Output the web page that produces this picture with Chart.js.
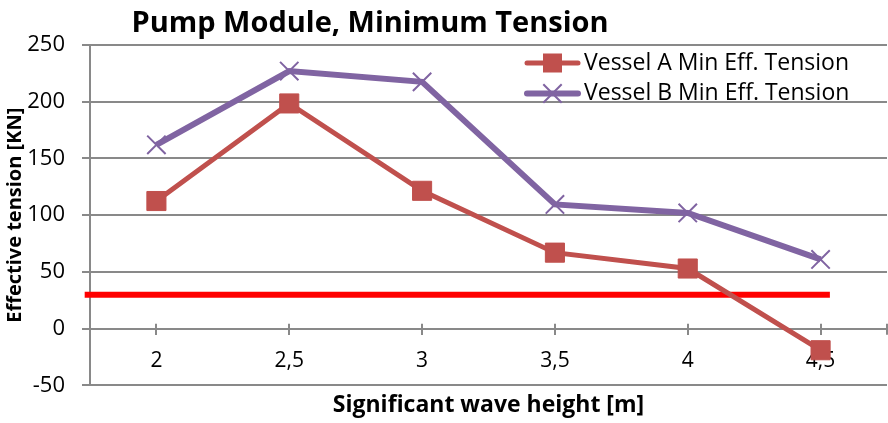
<!DOCTYPE html>
<html>
<head>
<meta charset="utf-8">
<title>Pump Module, Minimum Tension</title>
<script src="https://cdn.jsdelivr.net/npm/chart.js@4/dist/chart.umd.min.js"></script>
<style>
  html, body { margin: 0; padding: 0; background: #fff; }
  canvas { display: block; }
</style>
</head>
<body>
<canvas id="tension-chart" width="888" height="423"></canvas>
<script>
// values
const waveHeights = [2, 2.5, 3, 3.5, 4, 4.5];
const vesselA = [112.5, 198.5, 121.5, 67, 53, -19];
const vesselB = [162, 227, 217.5, 109.5, 102, 61];
const limitX = [1.73, 4.535];   // red limit line runs a bit past the axes
const limitY = [30, 30];
const yTicks = [-50, 0, 50, 100, 150, 200, 250];

const chartTitle = 'Pump Module, Minimum Tension';
const xTitle = 'Significant wave height [m]';
const yTitle = 'Effective tension [KN]';

const FONT = '"Open Sans"';
const GRID = '#898989';

const toPoints = (xs, ys) => xs.map((x, i) => ({ x: x, y: ys[i] }));
const commaLabel = (v) => String(v).replace('.', ',');

// title sits left of centre in the original, so draw it by hand
const titlePlugin = {
  id: 'manualTitle',
  afterDraw(chart) {
    const ctx = chart.ctx;
    ctx.save();
    ctx.font = `bold 29px ${FONT}`;
    ctx.fillStyle = '#000';
    ctx.textAlign = 'center';
    ctx.textBaseline = 'alphabetic';
    ctx.fillText(chartTitle, 370, 32);
    ctx.restore();
  }
};

// excel style tick marks cross the zero line, chart.js only draws them below
const crossTicksPlugin = {
  id: 'crossTicks',
  beforeDatasetsDraw(chart) {
    const { ctx, scales: { x, y } } = chart;
    const zero = y.getPixelForValue(0);
    ctx.save();
    ctx.strokeStyle = GRID;
    ctx.lineWidth = 2;
    ctx.beginPath();
    waveHeights.concat([x.max]).forEach(v => {
      const px = Math.round(x.getPixelForValue(v));
      ctx.moveTo(px, zero - 5);
      ctx.lineTo(px, zero + 6);
    });
    ctx.stroke();
    ctx.restore();
  }
};

// legend drawn inside the plot, top right, no box
const legendPlugin = {
  id: 'insideLegend',
  afterDatasetsDraw(chart) {
    const ctx = chart.ctx;
    const rows = chart.data.datasets.filter(ds => ds.showInLegend);
    ctx.save();
    rows.forEach((ds, i) => {
      const y = 63 + i * 30.5;
      ctx.strokeStyle = ds.borderColor;
      ctx.lineWidth = ds.borderWidth;
      ctx.lineCap = 'round';
      ctx.beginPath();
      ctx.moveTo(527, y);
      ctx.lineTo(578, y);
      ctx.stroke();
      const cx = 552.5;
      if (ds.pointStyle === 'rect') {
        ctx.fillStyle = ds.pointBackgroundColor;
        ctx.fillRect(cx - 9.5, y - 9.5, 19, 19);
      } else {
        const d = ds.pointRadius * Math.SQRT1_2;
        ctx.lineWidth = ds.pointBorderWidth;
        ctx.lineCap = 'butt';
        ctx.beginPath();
        ctx.moveTo(cx - d, y - d); ctx.lineTo(cx + d, y + d);
        ctx.moveTo(cx - d, y + d); ctx.lineTo(cx + d, y - d);
        ctx.stroke();
      }
      ctx.fillStyle = '#000';
      ctx.font = `23px ${FONT}`;
      ctx.textAlign = 'left';
      ctx.textBaseline = 'middle';
      ctx.fillText(ds.label, 584, y);
    });
    ctx.restore();
  }
};

const chart = new Chart(document.getElementById('tension-chart'), {
  type: 'line',
  data: {
    datasets: [
      {
        label: 'Vessel A Min Eff. Tension',
        data: toPoints(waveHeights, vesselA),
        borderColor: '#c0504d',
        backgroundColor: '#c0504d',
        borderWidth: 5,
        pointStyle: 'rect',
        pointRadius: 13.5,
        pointBackgroundColor: '#c0504d',
        pointBorderColor: '#c0504d',
        pointBorderWidth: 1,
        tension: 0,
        order: 0,
        showInLegend: true
      },
      {
        label: 'Vessel B Min Eff. Tension',
        data: toPoints(waveHeights, vesselB),
        borderColor: '#8064a2',
        backgroundColor: '#8064a2',
        borderWidth: 6,
        pointStyle: 'crossRot',
        pointRadius: 13,
        pointBackgroundColor: '#8064a2',
        pointBorderColor: '#8064a2',
        pointBorderWidth: 2,
        tension: 0,
        order: 1,
        showInLegend: true
      },
      {
        label: 'Limit',
        data: toPoints(limitX, limitY),
        borderColor: '#ff0000',
        backgroundColor: '#ff0000',
        borderWidth: 6,
        borderCapStyle: 'butt',
        pointRadius: 0,
        clip: false,
        order: 2,
        showInLegend: false
      }
    ]
  },
  options: {
    responsive: false,
    animation: false,
    events: [],
    layout: { autoPadding: false, padding: { top: 45, right: 1, bottom: 0, left: 0 } },
    plugins: {
      legend: { display: false },
      title: { display: false },
      tooltip: { enabled: false }
    },
    scales: {
      x: {
        type: 'linear',
        position: { y: 0 },
        min: 1.75,
        max: 4.75,
        afterBuildTicks: (scale) => {
          scale.ticks = waveHeights.map(v => ({ value: v }));
        },
        ticks: {
          autoSkip: false,
          maxRotation: 0,
          padding: 14,
          color: '#000',
          font: { family: FONT, size: 21 },
          callback: (v) => commaLabel(v)
        },
        grid: { drawOnChartArea: false, drawTicks: true, tickLength: 6, color: GRID, lineWidth: 2 },
        border: { display: false }
      },
      xTitle: {
        type: 'linear',
        axis: 'x',
        position: 'bottom',
        min: 1.75,
        max: 4.75,
        ticks: { display: false },
        grid: { display: false, drawTicks: false },
        border: { display: false },
        title: {
          display: true,
          text: xTitle,
          color: '#000',
          font: { family: FONT, size: 23, weight: 'bold' },
          padding: { top: 6, bottom: 4 }
        }
      },
      y: {
        min: -50,
        max: 250,
        afterBuildTicks: (scale) => {
          scale.ticks = yTicks.map(v => ({ value: v }));
        },
        afterFit: (scale) => { scale.width = 90; },
        ticks: {
          padding: 17,
          color: '#000',
          font: { family: FONT, size: 22 }
        },
        grid: { color: GRID, lineWidth: 2, tickLength: 8 },
        border: { color: GRID, width: 2 },
        title: {
          display: true,
          text: yTitle,
          color: '#000',
          font: { family: FONT, size: 20, weight: 'bold' },
          padding: { top: 3, bottom: 0 }
        }
      }
    }
  },
  plugins: [titlePlugin, crossTicksPlugin, legendPlugin]
});
</script>
</body>
</html>
